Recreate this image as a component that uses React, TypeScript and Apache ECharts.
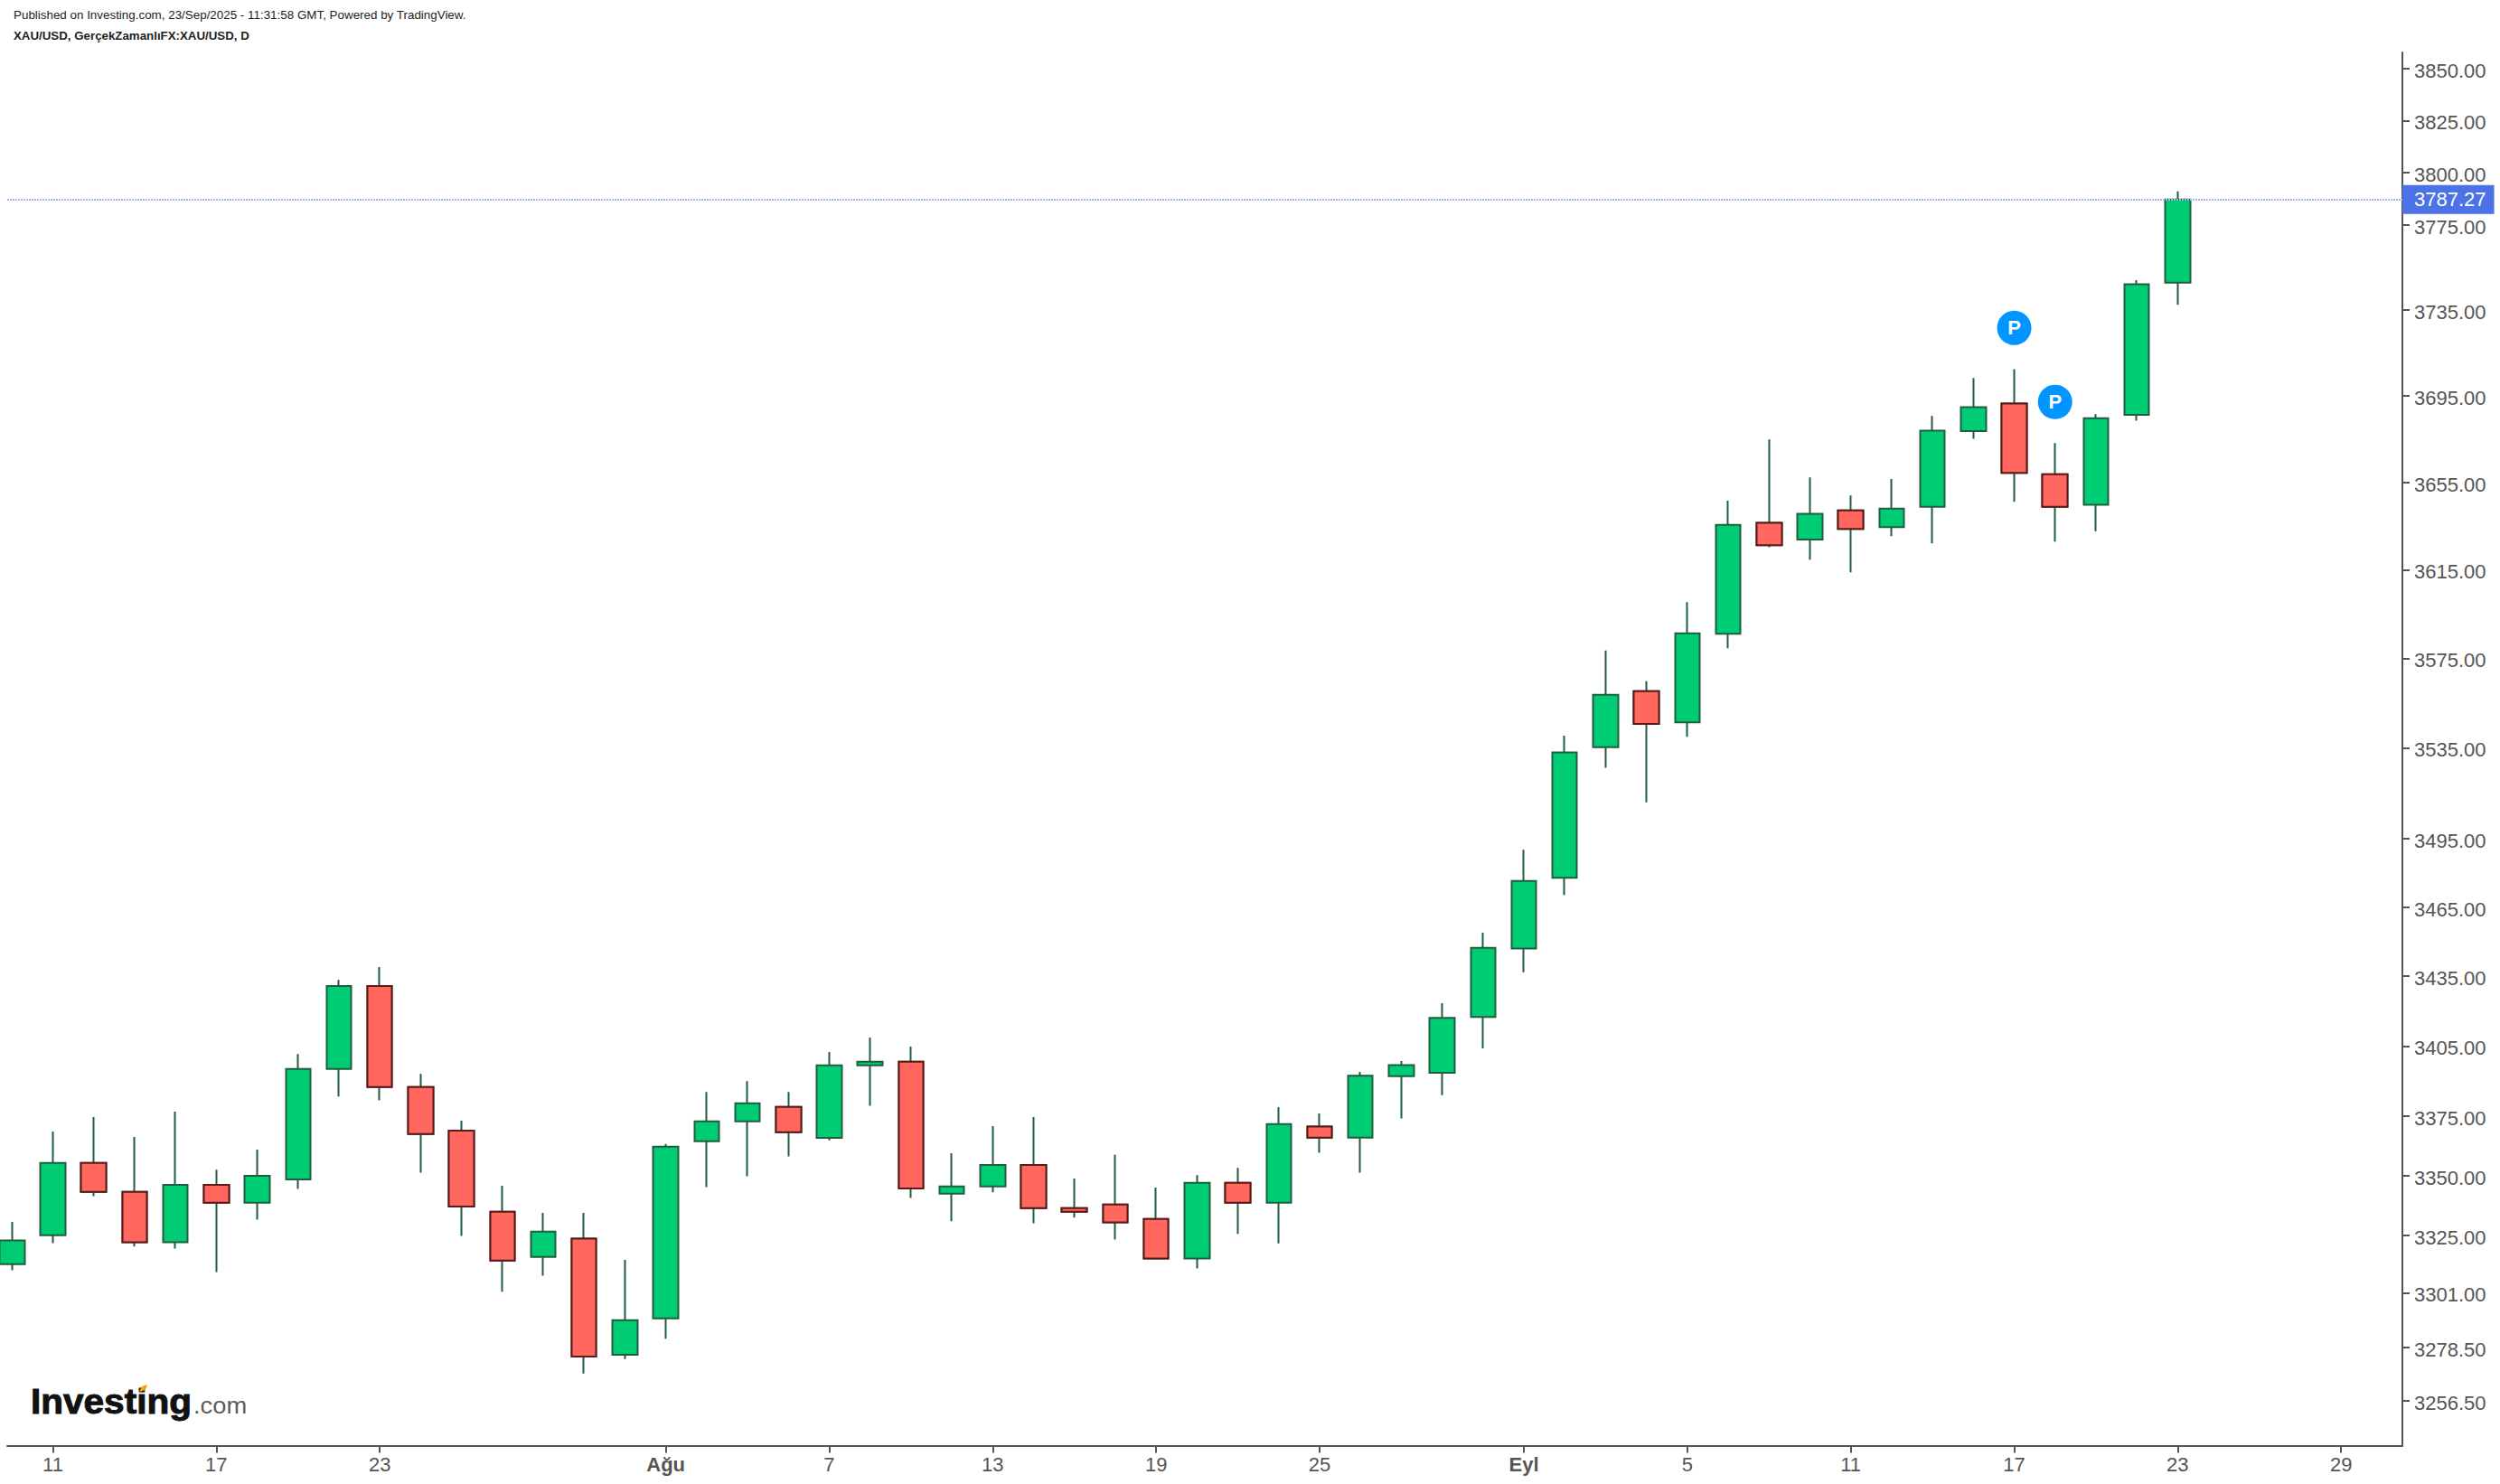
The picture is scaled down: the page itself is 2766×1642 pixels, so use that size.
import React, { useEffect, useRef } from "react";
import * as echarts from "echarts";

// Trading days, 10 Jul - 23 Sep 2025; the x axis counts bars from 0.
const opens = [3312.9, 3325, 3355.3, 3343.1, 3322, 3346.1, 3338.6, 3348.4, 3395.2, 3430.8, 3387.5, 3369, 3334.8, 3315.9, 3323.5, 3275.4, 3290.4, 3364.5, 3372.9, 3379, 3365.9, 3396.7, 3398.3, 3342.4, 3345.4, 3354.5, 3336.3, 3337.8, 3331.8, 3315.2, 3346.9, 3338.6, 3370.7, 3366, 3392.1, 3393.5, 3417.4, 3447, 3477.7, 3535.3, 3560.3, 3546.4, 3586.1, 3636.4, 3628.8, 3642.1, 3634.4, 3643.7, 3678.6, 3691.3, 3658.7, 3644.7, 3686.1, 3747.9];
const closes = [3322.8, 3355.3, 3343.1, 3322, 3346.1, 3338.6, 3349.9, 3395.2, 3430.8, 3387.5, 3367.5, 3337, 3314.4, 3326.5, 3274.6, 3289.6, 3362.2, 3372.9, 3380.6, 3368.3, 3396.7, 3398.3, 3344.6, 3345.4, 3354.5, 3336.3, 3334.8, 3330.3, 3315.2, 3346.9, 3338.6, 3371.7, 3366, 3392.3, 3396.8, 3417, 3447.3, 3476.4, 3533, 3558.7, 3545.7, 3586.3, 3635.5, 3626.2, 3640.5, 3633.6, 3642.9, 3678.8, 3689.7, 3659.3, 3643.7, 3684.5, 3747.1, 3787.27];
const lows = [3310.4, 3321.7, 3341.3, 3320.2, 3319.4, 3309.6, 3331.5, 3344.4, 3383.4, 3381.8, 3351.2, 3324.7, 3301.4, 3308.1, 3267.7, 3273.6, 3282, 3345.1, 3349.7, 3358.1, 3364.9, 3379.5, 3340.6, 3330.8, 3342.9, 3330, 3332.3, 3323.2, 3315, 3311.1, 3325.5, 3321.6, 3359.6, 3351.2, 3374.1, 3384, 3404, 3436.7, 3470.2, 3526.2, 3510.9, 3539.9, 3579.5, 3625.3, 3619.6, 3613.9, 3630.3, 3627, 3675, 3646, 3627.8, 3632.6, 3683.4, 3737.4];
const highs = [3330.5, 3368.6, 3374.7, 3366.3, 3377, 3352.5, 3360.9, 3401.6, 3433.4, 3438.9, 3393.1, 3373.2, 3345.7, 3334.3, 3334.3, 3314.7, 3363.3, 3385.4, 3390, 3385.4, 3402.4, 3408.6, 3404.7, 3359.4, 3370.9, 3374.7, 3348.7, 3358.7, 3344.9, 3350.2, 3353.2, 3378.9, 3376.2, 3393.9, 3398.6, 3423.4, 3453.8, 3490, 3540.4, 3578.5, 3564.7, 3600.3, 3646.5, 3674.7, 3657.2, 3648.9, 3656.5, 3685.6, 3703.2, 3707.3, 3673.1, 3686.4, 3749, 3791.1];

const xTickBars = [1, 5, 9, 16, 20, 24, 28, 32, 37, 41, 45, 49, 53, 57];
const xTickLabels = ["11", "17", "23", "Ağu", "7", "13", "19", "25", "Eyl", "5", "11", "17", "23", "29"];

const yTicks = [3850, 3825, 3800, 3775, 3735, 3695, 3655, 3615, 3575, 3535, 3495, 3465, 3435, 3405, 3375, 3350, 3325, 3301, 3278.5, 3256.5];

const lastPrice = 3787.27;
const pMarkerBars = [49, 50];
const pMarkerPrices = [3726.6, 3692.1];

const FONT = "'Liberation Sans', Arial, sans-serif";
const TEXT = "#555555";
const GREEN = "#00CC74";
const GREEN_DARK = "#1E5E3E";
const RED = "#FF675F";
const RED_DARK = "#5F1717";

const allBars = opens.map((o, i) => [i, o, closes[i], lows[i], highs[i]]);
const downBodies = opens
  .map((o, i) => [i, o, closes[i], Math.min(o, closes[i]), Math.max(o, closes[i])])
  .filter((r) => r[2] < r[1]);
const pMarkers = pMarkerBars.map((b, i) => [b, pMarkerPrices[i]]);

function xLabel(v: number) {
  const i = xTickBars.indexOf(Math.round(v));
  if (i < 0) return "";
  const s = xTickLabels[i];
  return s === "Ağu" || s === "Eyl" ? `{b|${s}}` : s;
}

export default function App() {
  const ref = useRef<HTMLDivElement>(null);
  useEffect(() => {
    document.body.style.margin = "0";
    const chart = echarts.init(ref.current!, undefined, { renderer: "svg" });
    chart.setOption({
      animation: false,
      backgroundColor: "#ffffff",
      textStyle: { fontFamily: FONT },
      grid: { left: 8, top: 58, right: 108, bottom: 42.5, containLabel: false },
      xAxis: {
        type: "value",
        min: -0.117,
        max: 58.5,
        splitLine: { show: false },
        axisLine: { show: true, onZero: false, lineStyle: { color: TEXT, width: 2 } },
        axisTick: { show: true, length: 8, customValues: xTickBars, lineStyle: { color: TEXT, width: 2 } },
        axisLabel: {
          customValues: xTickBars,
          formatter: xLabel,
          color: TEXT,
          fontSize: 22,
          fontFamily: FONT,
          margin: 10,
          hideOverlap: false,
          showMinLabel: true,
          showMaxLabel: true,
          rich: { b: { fontWeight: "bold", fontSize: 22, color: TEXT, fontFamily: FONT } },
        },
      },
      yAxis: {
        type: "log",
        position: "right",
        min: 3238.2,
        max: 3857.9,
        splitLine: { show: false },
        minorTick: { show: false },
        axisLine: { show: true, onZero: false, lineStyle: { color: TEXT, width: 2 } },
        axisTick: { show: true, length: 8, customValues: yTicks, lineStyle: { color: TEXT, width: 2 } },
        axisLabel: {
          customValues: yTicks,
          formatter: (v: number) => `{a|${v.toFixed(2)}}`,
          color: TEXT,
          fontSize: 22,
          fontFamily: FONT,
          margin: 13,
          hideOverlap: false,
          showMinLabel: true,
          showMaxLabel: true,
          rich: { a: { color: TEXT, fontSize: 22, fontFamily: FONT, padding: [5, 0, 0, 0] } },
        },
      },
      series: [
        {
          name: "XAU/USD",
          type: "candlestick",
          data: allBars,
          encode: { x: 0, y: [1, 2, 3, 4] },
          barWidth: 28,
          clip: true,
          z: 2,
          itemStyle: { color: GREEN, color0: GREEN, borderColor: GREEN_DARK, borderColor0: GREEN_DARK, borderWidth: 2 },
          markLine: {
            silent: true,
            symbol: "none",
            animation: false,
            lineStyle: { color: "#A9B9F1", width: 2, type: [2, 1] },
            label: {
              show: true,
              position: "end",
              distance: 0,
              formatter: lastPrice.toFixed(2),
              color: "#ffffff",
              fontSize: 22,
              fontFamily: FONT,
              backgroundColor: "#4B72E6",
              padding: [7, 9, 3, 13],
            },
            data: [{ yAxis: lastPrice }],
          },
        },
        {
          name: "Down bodies",
          type: "candlestick",
          data: downBodies,
          encode: { x: 0, y: [1, 2, 3, 4] },
          barWidth: 28,
          clip: true,
          z: 3,
          itemStyle: { color: RED, color0: RED, borderColor: RED_DARK, borderColor0: RED_DARK, borderWidth: 2 },
        },
        {
          name: "Publications",
          type: "scatter",
          data: pMarkers,
          symbol: "circle",
          symbolSize: 38,
          z: 4,
          itemStyle: { color: "#0095FF", opacity: 1 },
          label: { show: true, position: "inside", formatter: "P", color: "#ffffff", fontSize: 22, fontWeight: "bold", fontFamily: FONT },
        },
      ],
      graphic: [
        { type: "text", x: 15, y: 10, style: { text: "Published on Investing.com, 23/Sep/2025 - 11:31:58 GMT, Powered by TradingView.", fontSize: 13.4, fontFamily: FONT, fill: "#222222" } },
        { type: "text", x: 15, y: 33, style: { text: "XAU/USD, GerçekZamanlıFX:XAU/USD, D", fontSize: 13.3, fontWeight: "bold", fontFamily: FONT, fill: "#222222" } },
        { type: "text", x: 34, y: 1531, scaleX: 1.04, style: { text: "Investing", fontSize: 39, fontWeight: "bold", fontFamily: FONT, fill: "#111111", stroke: "#111111", lineWidth: 1 } },
        { type: "text", x: 214, y: 1542, scaleX: 1.05, style: { text: ".com", fontSize: 26, fontFamily: FONT, fill: "#5c5c5c" } },
        { type: "polygon", z: 10, shape: { points: [[154, 1540], [157, 1534], [163, 1532], [161, 1538]] }, style: { fill: "#F7A600" } },
      ],
    });
    return () => chart.dispose();
  }, []);
  return <div ref={ref} style={{ position: "absolute", left: 0, top: 0, width: 2766, height: 1642 }} />;
}
